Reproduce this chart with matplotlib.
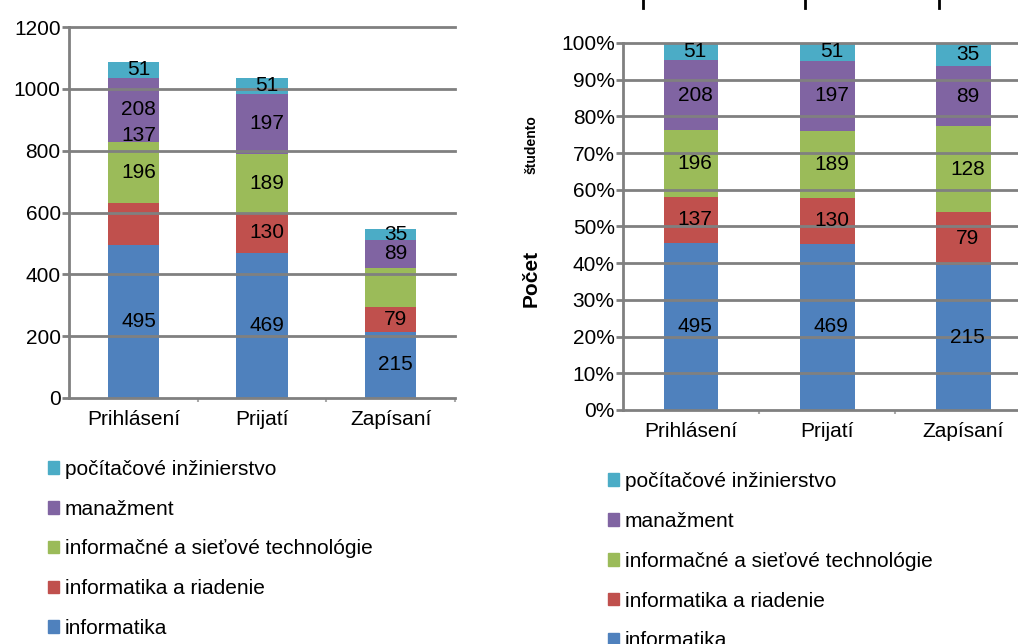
import numpy as np
import matplotlib
matplotlib.use("Agg")
import matplotlib.pyplot as plt
from matplotlib.lines import Line2D
from matplotlib.patches import Patch

plt.rcParams['font.family'] = ['Liberation Sans', 'DejaVu Sans']

#%%

# Student counts per stage and study programme

stages = ["Prihlásení", "Prijatí", "Zapísaní"]

informatika = [495, 469, 215]
informatika_riadenie = [137, 130, 79]
siet_technologie = [196, 189, 128]
manazment = [208, 197, 89]
pocitacove_inz = [51, 51, 35]

series_names = ["informatika", "informatika a riadenie",
                "informačné a sieťové technológie", "manažment",
                "počítačové inžinierstvo"]
series_vals = [informatika, informatika_riadenie, siet_technologie,
               manazment, pocitacove_inz]
colors = ["#4F81BD", "#C0504D", "#9BBB59", "#8064A2", "#4BACC6"]

grid_col = "#808080"
bar_w = 0.4
fs = 15

data = np.array(series_vals, dtype=float)
totals = data.sum(axis=0)
pct = data / totals * 100

x = np.arange(len(stages))

fig = plt.figure(figsize=(10.18, 6.44), dpi=100)


def style_axes(ax, ymax, ystep, yfmt):
    ax.set_xlim(-0.5, 2.5)
    ax.set_ylim(0, ymax)
    yt = np.arange(0, ymax + ystep / 2, ystep)
    ax.set_yticks(yt)
    ax.set_yticklabels([yfmt(v) for v in yt], fontsize=fs)
    ax.set_xticks(x)
    ax.set_xticklabels(stages, fontsize=fs)
    ax.set_xticks([0.5, 1.5, 2.5], minor=True)
    for s in ["top", "right"]:
        ax.spines[s].set_visible(False)
    for s in ["left", "bottom"]:
        ax.spines[s].set_color(grid_col)
        ax.spines[s].set_linewidth(2.0)
        ax.spines[s].set_zorder(4)
    ax.tick_params(axis="y", length=5, width=2, color=grid_col, pad=1)
    ax.tick_params(axis="x", which="major", length=0, pad=9)
    ax.tick_params(axis="x", which="minor", length=3, width=1.5, color="#aaaaaa")
    for v in yt[1:]:
        ax.axhline(v, color=grid_col, lw=2.0, zorder=3, clip_on=False)


#%%

# Absolute counts

ax1 = fig.add_axes([0.0678, 0.382, 0.3792, 0.576])
bottom = np.zeros(len(stages))
for i in range(len(series_vals)):
    ax1.bar(x, data[i], bar_w, bottom=bottom, color=colors[i], zorder=2)
    for j in range(len(stages)):
        yc = bottom[j] + data[i][j] / 2
        if i == 2 and j == 2:
            continue  # no label on this segment
        if i == 1 and j == 0:
            yc = bottom[j] + data[i][j] + data[i + 1][j] + 20
        ax1.text(x[j] + 0.04, yc, str(int(data[i][j])), ha="center",
                 va="center", fontsize=fs, zorder=5)
    bottom = bottom + data[i]
style_axes(ax1, 1200, 200, lambda v: str(int(v)))

#%%

# Percentage shares

ax2 = fig.add_axes([0.612, 0.3634, 0.388, 0.5699])
bottom = np.zeros(len(stages))
for i in range(len(series_vals)):
    ax2.bar(x, pct[i], bar_w, bottom=bottom, color=colors[i], zorder=2)
    for j in range(len(stages)):
        yc = bottom[j] + pct[i][j] / 2
        ax2.text(x[j] + 0.03, yc, str(int(data[i][j])), ha="center",
                 va="center", fontsize=fs, zorder=5)
    bottom = bottom + pct[i]
style_axes(ax2, 100, 10, lambda v: "%d%%" % v)
ax2.set_xlim(-0.5, 2.4)

fig.text(0.522, 0.568, "Počet", rotation=90, fontsize=fs, fontweight="bold",
         ha="center", va="center")
fig.text(0.522, 0.775, "študento", rotation=90, fontsize=10, fontweight="bold",
         ha="center", va="center")

# short marks along the top edge
for xf in [0.632, 0.791, 0.922]:
    fig.add_artist(Line2D([xf, xf], [0.988, 1.0], color="black", lw=2))

#%%

# Legends (top series first)

handles = [Patch(color=colors[i], label=series_names[i])
           for i in range(len(series_names) - 1, -1, -1)]

leg_kw = dict(loc="upper left", frameon=False, fontsize=fs, handlelength=0.55,
              handleheight=0.55, handletextpad=0.25, labelspacing=1.0,
              borderaxespad=0)
fig.legend(handles=handles, bbox_to_anchor=(0.039, 0.299), **leg_kw)
fig.legend(handles=handles, bbox_to_anchor=(0.589, 0.28), **leg_kw)

plt.savefig("out.png", dpi=100)
plt.close()
